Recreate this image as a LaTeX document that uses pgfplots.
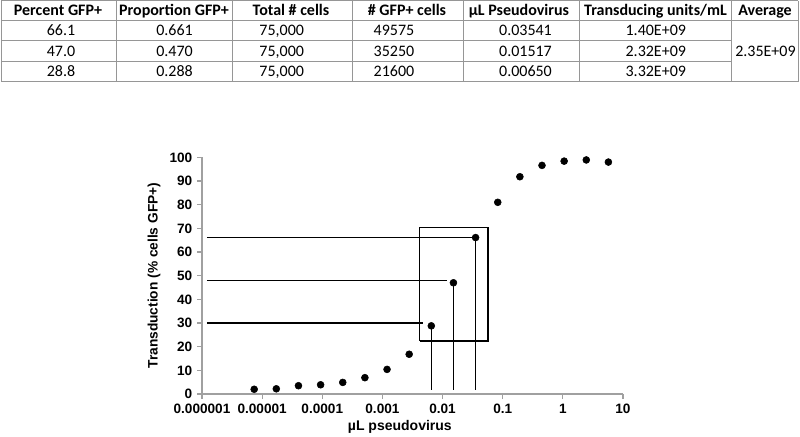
\documentclass[border=0pt]{standalone}
\usepackage{pgfplots}
\pgfplotsset{compat=1.18}
\usepackage{fontspec}
\setmainfont{Liberation Sans}
\newfontfamily\calibri{Carlito}
\definecolor{axgray}{RGB}{160,160,160}
\definecolor{rulegray}{RGB}{150,150,150}

\begin{document}
\begin{tikzpicture}
\useasboundingbox (0pt,0pt) rectangle (600pt,-327pt);
% table, in pixel units of the reference
\begin{scope}[x=0.75pt,y=-0.75pt]
  \begin{scope}[rulegray, line width=0.75pt]
    \draw (1,0.5) -- (798,0.5);
    \draw (1,20.7) -- (798,20.7);
    \draw (1,40.7) -- (731.7,40.7);
    \draw (1,61) -- (731.7,61);
    \draw (1,81.7) -- (798,81.7);
    \foreach \x in {1,116,232,352.7,463.3,579.3,731.7,798}
      \draw (\x,0.5) -- (\x,81.7);
  \end{scope}
  \begin{scope}[every node/.style={font=\calibri\bfseries\fontsize{12}{14}\selectfont, inner sep=0pt, anchor=base}]
    \node at (58,15.8) {Percent GFP+};
    \node at (174,15.8) {Proportion GFP+};
    \node at (291,15.8) {Total \# cells};
    \node at (407,15.8) {\# GFP+ cells};
    \node at (519,15.8) {µL Pseudovirus};
    \node at (655.5,15.8) {Transducing units/mL};
    \node at (765,15.8) {Average};
  \end{scope}
  \begin{scope}[every node/.style={font=\calibri\fontsize{12}{14}\selectfont, inner sep=0pt, anchor=base}]
    \node at (61,35.9) {66.1};   \node at (174.5,35.9) {0.661}; \node at (281.7,35.9) {75,000};
    \node at (394,35.9) {49575}; \node at (525.5,35.9) {0.03541}; \node at (655.8,35.9) {1.40E+09};
    \node at (61,56) {47.0};   \node at (174.5,56) {0.470}; \node at (281.7,56) {75,000};
    \node at (394,56) {35250}; \node at (525.5,56) {0.01517}; \node at (655.8,56) {2.32E+09};
    \node at (61,76.5) {28.8};   \node at (174.5,76.5) {0.288}; \node at (281.7,76.5) {75,000};
    \node at (394,76.5) {21600}; \node at (525.5,76.5) {0.00650}; \node at (655.8,76.5) {3.32E+09};
    \node at (765.5,56) {2.35E+09};
  \end{scope}
\end{scope}

\begin{axis}[
  at={(151.5pt,-295.5pt)}, anchor=south west,
  scale only axis, width=315.75pt, height=177.5pt,
  xmode=log, xmin=1e-6, xmax=10, ymin=0, ymax=100,
  xtick={1e-6,1e-5,1e-4,1e-3,1e-2,1e-1,1,10},
  xticklabels={0.000001,0.00001,0.0001,0.001,0.01,0.1,1,10},
  minor tick length=0pt,
  ytick={0,10,...,100},
  /pgf/number format/assume math mode=true,
  axis x line*=bottom, axis y line*=left,
  axis line style={axgray, line width=0.9pt, -},
  tick style={axgray, line width=0.9pt},
  tick align=outside, major tick length=3.75pt,
  tick label style={font=\bfseries\fontsize{10.2}{12}\selectfont, black},
  xlabel={µL pseudovirus},
  ylabel={Transduction (\% cells GFP+)},
  every axis x label/.style={at={(axis description cs:0.470,-0.138)}, anchor=center,
    font=\bfseries\fontsize{10.5}{12}\selectfont},
  every axis y label/.style={at={(axis description cs:-0.114,0.5)}, anchor=center, rotate=90,
    font=\bfseries\fontsize{10.3}{12}\selectfont},
  clip=false,
]
% guide lines
\addplot[black, line width=0.9pt] coordinates {(1.2e-6,66) (0.03541,66)};
\addplot[black, line width=0.9pt] coordinates {(1.2e-6,48) (0.01175,48)};
\addplot[black, line width=0.9pt] coordinates {(1.2e-6,30) (0.00475,30)};
\addplot[black, line width=0.9pt] coordinates {(0.0065,28.8) (0.0065,1.7)};
\addplot[black, line width=0.9pt] coordinates {(0.01517,47.0) (0.01517,1.7)};
\addplot[black, line width=0.9pt] coordinates {(0.03541,66.1) (0.03541,1.7)};
% box
\addplot[black, line width=1.2pt] coordinates {(0.00414,22.5) (0.0571,22.5) (0.0571,70.4) (0.00414,70.4) (0.00414,22.5)};
% transduction data
\addplot[only marks, mark=*, mark size=2.6pt, black] coordinates {
(7.38e-6,2.0) (1.72e-5,2.2) (4.02e-5,3.5) (9.38e-5,3.9) (2.19e-4,4.9)
(5.11e-4,6.9) (1.193e-3,10.4) (2.785e-3,16.8) (0.0065,28.8) (0.01517,47.0)
(0.03541,66.1) (0.0827,81.0) (0.193,91.8) (0.450,96.6) (1.051,98.4)
(2.452,98.9) (5.72,98.0)};
\end{axis}
\end{tikzpicture}
\end{document}
